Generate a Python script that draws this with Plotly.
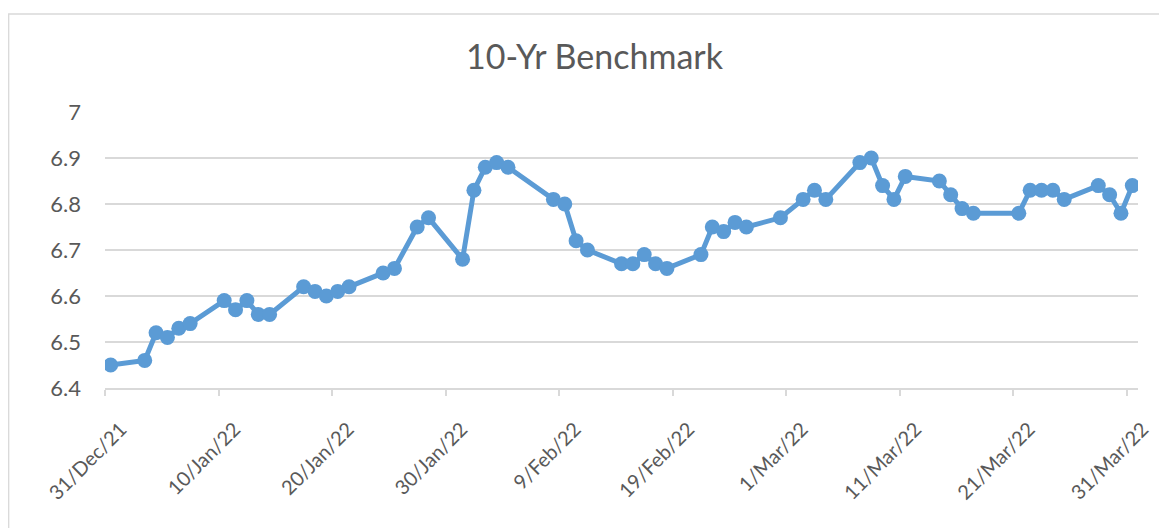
import plotly.graph_objects as go
import pandas as pd

dates = [
    "2021-12-31", "2022-01-03", "2022-01-04", "2022-01-05", "2022-01-06", "2022-01-07",
    "2022-01-10", "2022-01-11", "2022-01-12", "2022-01-13", "2022-01-14",
    "2022-01-17", "2022-01-18", "2022-01-19", "2022-01-20", "2022-01-21",
    "2022-01-24", "2022-01-25", "2022-01-27", "2022-01-28",
    "2022-01-31", "2022-02-01", "2022-02-02", "2022-02-03", "2022-02-04",
    "2022-02-08", "2022-02-09", "2022-02-10", "2022-02-11",
    "2022-02-14", "2022-02-15", "2022-02-16", "2022-02-17", "2022-02-18",
    "2022-02-21", "2022-02-22", "2022-02-23", "2022-02-24", "2022-02-25",
    "2022-02-28", "2022-03-02", "2022-03-03", "2022-03-04",
    "2022-03-07", "2022-03-08", "2022-03-09", "2022-03-10", "2022-03-11",
    "2022-03-14", "2022-03-15", "2022-03-16", "2022-03-17",
    "2022-03-21", "2022-03-22", "2022-03-23", "2022-03-24", "2022-03-25",
    "2022-03-28", "2022-03-29", "2022-03-30", "2022-03-31",
]
yields = [
    6.45, 6.46, 6.52, 6.51, 6.53, 6.54,
    6.59, 6.57, 6.59, 6.56, 6.56,
    6.62, 6.61, 6.60, 6.61, 6.62,
    6.65, 6.66, 6.75, 6.77,
    6.68, 6.83, 6.88, 6.89, 6.88,
    6.81, 6.80, 6.72, 6.70,
    6.67, 6.67, 6.69, 6.67, 6.66,
    6.69, 6.75, 6.74, 6.76, 6.75,
    6.77, 6.81, 6.83, 6.81,
    6.89, 6.90, 6.84, 6.81, 6.86,
    6.85, 6.82, 6.79, 6.78,
    6.78, 6.83, 6.83, 6.83, 6.81,
    6.84, 6.82, 6.78, 6.84,
]
tick_dates = ["2021-12-31", "2022-01-10", "2022-01-20", "2022-01-30", "2022-02-09",
              "2022-02-19", "2022-03-01", "2022-03-11", "2022-03-21", "2022-03-31"]
tick_labels = ["31/Dec/21", "10/Jan/22", "20/Jan/22", "30/Jan/22", "9/Feb/22",
               "19/Feb/22", "1/Mar/22", "11/Mar/22", "21/Mar/22", "31/Mar/22"]

half_day = pd.Timedelta(hours=12)
tickvals = [pd.Timestamp(d) - half_day for d in tick_dates]
x_range = [pd.Timestamp(dates[0]) - half_day, pd.Timestamp(dates[-1]) + half_day]

FONT = "Lato"
GREY_TXT = "#595959"
GRID = "#d9d9d9"
BLUE = "#5B9BD5"

fig = go.Figure()
fig.add_trace(go.Scatter(
    x=pd.to_datetime(dates), y=yields, mode="lines+markers",
    line=dict(color=BLUE, width=5),
    marker=dict(color=BLUE, size=15),
    showlegend=False, hoverinfo="x+y",
))

# page has an 8px body margin; figure coordinates are page coordinates minus 8
OFF = 8
W, H = 1167 - OFF, 528 - OFF
L, T = 105 - OFF, 112 - OFF
R = W - (1138 - OFF)
B = H - (388 - OFF)
pw, ph = W - L - R, H - T - B

fig.update_layout(
    width=W, height=H,
    margin=dict(l=L, r=R, t=T, b=B),
    paper_bgcolor="white", plot_bgcolor="white",
    font=dict(family=FONT, color=GREY_TXT),
    title=dict(text="10-Yr Benchmark", font=dict(family=FONT, size=34, color=GREY_TXT),
               x=(594.5 - 105) / pw, xref="paper", xanchor="center",
               y=1 - (57 - OFF) / H, yref="container", yanchor="middle"),
    xaxis=dict(
        type="date", range=x_range,
        tickmode="array", tickvals=tickvals, ticktext=tick_labels,
        tickangle=-45, tickfont=dict(size=20, color=GREY_TXT, family=FONT),
        showgrid=False, showline=True, linecolor=GRID, linewidth=1.5,
        ticks="outside", ticklen=6, tickcolor=GRID, tickwidth=1.5,
        ticklabelstandoff=14, ticklabelshift=16,
        zeroline=False, fixedrange=True,
    ),
    yaxis=dict(
        range=[6.4, 7.0], dtick=0.1, tick0=6.4,
        tickfont=dict(size=22, color=GREY_TXT, family=FONT),
        showgrid=True, gridcolor=GRID, gridwidth=1.5,
        showline=False, zeroline=False, ticks="",
        ticklabelstandoff=23, fixedrange=True,
    ),
    shapes=[dict(
        type="rect", xref="paper", yref="paper",
        x0=(0.7 - L) / pw, x1=1.2, y0=-1.0, y1=1 + (T - 6) / ph,
        line=dict(color=GRID, width=1.3), fillcolor="rgba(0,0,0,0)", layer="below",
    )],
)

fig.write_html("out.html")
